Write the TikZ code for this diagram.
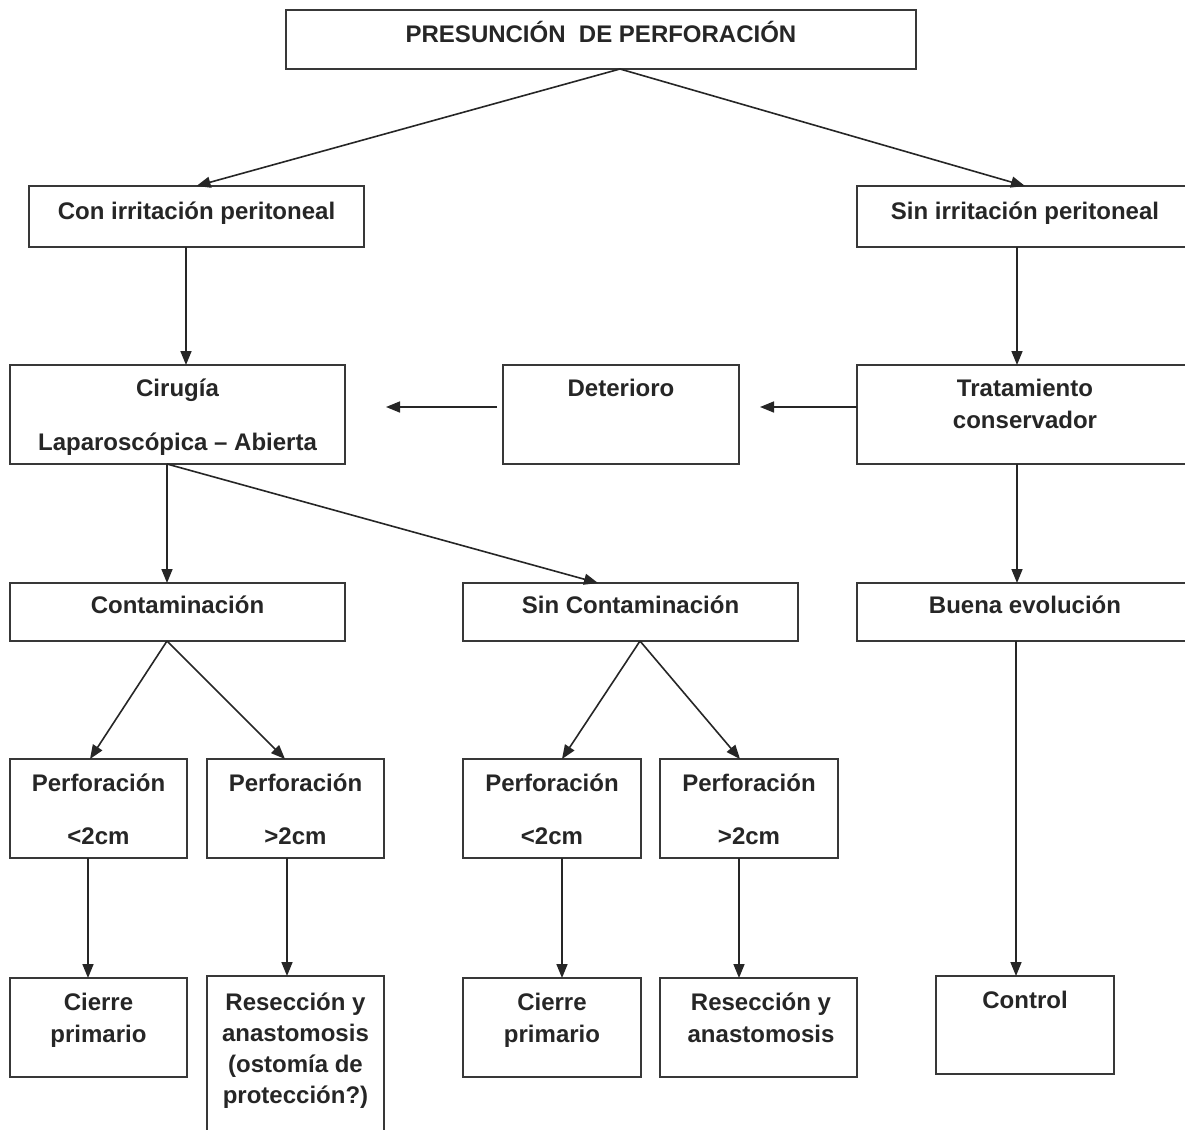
\documentclass[tikz,border=0pt]{standalone}
\usepackage{fontspec}
\setmainfont{Liberation Sans}
\usetikzlibrary{arrows.meta,calc}
\definecolor{ink}{HTML}{262626}
\definecolor{edge}{HTML}{383838}
\tikzset{
  box/.style={draw=edge, line width=2pt, inner sep=0pt, outer sep=0pt},
  txt/.style={text=ink, font=\fontsize{24}{29}\selectfont\bfseries, inner sep=0pt, anchor=base},
  arr/.style={draw=ink, line width=1.6pt, -{Triangle[length=14pt,width=11pt]}},
}
\newcommand\mkbox[5]{\node[box, minimum width={#4-#2}, minimum height={#5-#3}] (#1) at ({(#2+#4)/2},{(#3+#5)/2}) {};}
\newcommand\mktext[4]{\node[txt] (#1) at (#2,#3) {#4};}
\begin{document}
\begin{tikzpicture}[x=1pt,y=-1pt]
\useasboundingbox (0,0) rectangle (1185,1129);
\fill[white] (0,0) rectangle (1185,1129);
\begin{scope}
\clip (0,0) rectangle (1185,1129);
% boxes
\mkbox{top}{286}{10}{916}{69}
\mktext{top-a}{601}{43}{PRESUNCIÓN\ \ DE PERFORACIÓN}
\mkbox{con}{29}{186}{364}{247}
\mktext{con-a}{196.5}{219}{Con irritación peritoneal}
\mkbox{sin}{857}{186}{1193}{247}
\mktext{sin-a}{1025}{219}{Sin irritación peritoneal}
\mkbox{cir}{10}{365}{345}{464}
\mktext{cir-a}{177.5}{396}{Cirugía}
\mktext{cir-b}{177.5}{450}{Laparoscópica – Abierta}
\mkbox{det}{503}{365}{739}{464}
\mktext{det-a}{621}{396}{Deterioro}
\mkbox{tra}{857}{365}{1193}{464}
\mktext{tra-a}{1025}{396}{Tratamiento}
\mktext{tra-b}{1025}{428}{conservador}
\mkbox{cont}{10}{583}{345}{641}
\mktext{cont-a}{177.5}{613}{Contaminación}
\mkbox{scont}{463}{583}{798}{641}
\mktext{scont-a}{630.5}{613}{Sin Contaminación}
\mkbox{buena}{857}{583}{1193}{641}
\mktext{buena-a}{1025}{613}{Buena evolución}
\mkbox{p1}{10}{759}{187}{858}
\mktext{p1-a}{98.5}{791}{Perforación}
\mktext{p1-b}{98.5}{844}{<2cm}
\mkbox{p2}{207}{759}{384}{858}
\mktext{p2-a}{295.5}{791}{Perforación}
\mktext{p2-b}{295.5}{844}{>2cm}
\mkbox{p3}{463}{759}{641}{858}
\mktext{p3-a}{552}{791}{Perforación}
\mktext{p3-b}{552}{844}{<2cm}
\mkbox{p4}{660}{759}{838}{858}
\mktext{p4-a}{749}{791}{Perforación}
\mktext{p4-b}{749}{844}{>2cm}
\mkbox{c1}{10}{978}{187}{1077}
\mktext{c1-a}{98.5}{1010}{Cierre}
\mktext{c1-b}{98.5}{1042}{primario}
\mkbox{r1}{207}{976}{384}{1150}
\mktext{r1-a}{295.5}{1010}{Resección y}
\mktext{r1-b}{295.5}{1041}{anastomosis}
\mktext{r1-c}{295.5}{1072}{(ostomía de}
\mktext{r1-d}{295.5}{1103}{protección?)}
\mkbox{c2}{463}{978}{641}{1077}
\mktext{c2-a}{552}{1010}{Cierre}
\mktext{c2-b}{552}{1042}{primario}
\mkbox{r2}{660}{978}{857}{1077}
\mktext{r2-a}{761}{1010}{Resección y}
\mktext{r2-b}{761}{1042}{anastomosis}
\mkbox{ctl}{936}{976}{1114}{1074}
\mktext{ctl-a}{1025}{1008}{Control}
% helper columns
\foreach \v in {88,90,167,186,285,287,562,598,620,640,739,740,1016,1017}
  \coordinate (x\v) at (\v,0);
\coordinate (detR) at (760,407);
\coordinate (detL) at (497,407);
\coordinate (cirR) at (386,407);
% connectors
\draw[arr] (top.south -| x620) -- (con.north);
\draw[arr] (top.south -| x620) -- (sin.north);
\draw[arr] (con.south -| x186) -- (cir.north -| x186);
\draw[arr] (sin.south -| x1017) -- (tra.north -| x1017);
\draw[arr] (tra.west |- detR) -- (detR);
\draw[arr] (detL) -- (cirR);
\draw[arr] (cir.south -| x167) -- (cont.north -| x167);
\draw[arr] (cir.south -| x167) -- (scont.north -| x598);
\draw[arr] (tra.south -| x1017) -- (buena.north -| x1017);
\draw[arr] (cont.south -| x167) -- (p1.north -| x90);
\draw[arr] (cont.south -| x167) -- (p2.north -| x285);
\draw[arr] (scont.south -| x640) -- (p3.north -| x562);
\draw[arr] (scont.south -| x640) -- (p4.north -| x740);
\draw[arr] (buena.south -| x1016) -- (ctl.north -| x1016);
\draw[arr] (p1.south -| x88) -- (c1.north -| x88);
\draw[arr] (p2.south -| x287) -- (r1.north -| x287);
\draw[arr] (p3.south -| x562) -- (c2.north -| x562);
\draw[arr] (p4.south -| x739) -- (r2.north -| x739);
\end{scope}
\end{tikzpicture}
\end{document}
